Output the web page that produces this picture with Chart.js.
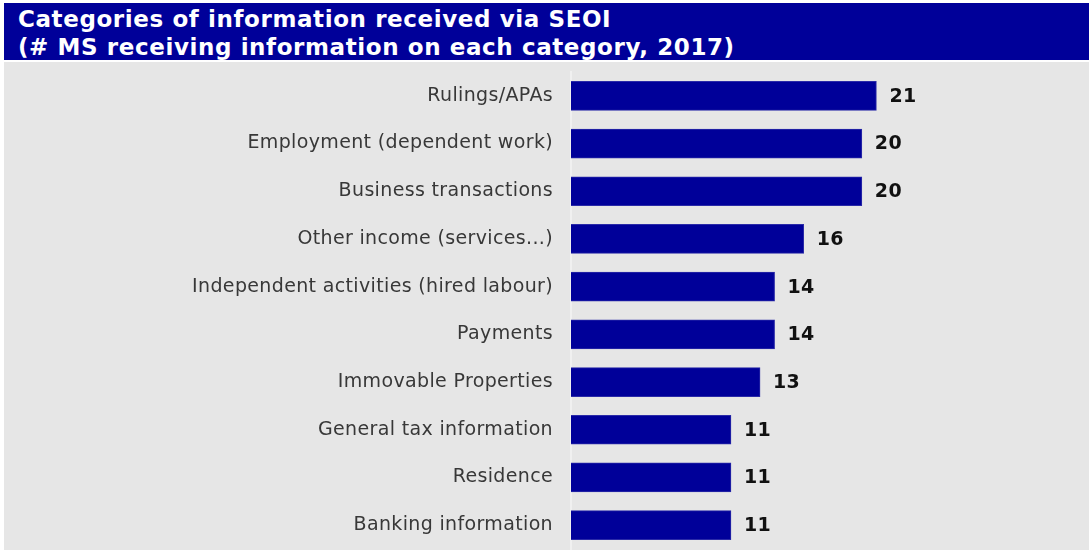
<!DOCTYPE html>
<html>
<head>
<meta charset="utf-8">
<script src="https://cdn.jsdelivr.net/npm/chart.js@4/dist/chart.umd.min.js"></script>
<style>
  html, body { margin: 0; padding: 0; background: #ffffff; }
  body { width: 1089px; height: 550px; position: relative; overflow: hidden; }
  #banner {
    position: absolute; left: 4px; top: 3px; width: 1085px; height: 57px;
    background: #000099; color: #ffffff; overflow: hidden;
    font-family: "DejaVu Sans", Verdana, sans-serif; font-weight: bold;
    font-size: 23px; letter-spacing: 0.6px; line-height: 28px; box-sizing: border-box; padding: 2px 0 0 14px;
  }
  #wrap { position: absolute; left: 4px; top: 62px; width: 1085px; height: 488px; background: #e6e6e6; }
</style>
</head>
<body>
<div id="banner">Categories of information received via SEOI<br>(# MS receiving information on each category, 2017)</div>
<div id="wrap"><canvas id="c" width="1085" height="488"></canvas></div>
<script>
const categories = [
  "Rulings/APAs",
  "Employment (dependent work)",
  "Business transactions",
  "Other income (services...)",
  "Independent activities (hired labour)",
  "Payments",
  "Immovable Properties",
  "General tax information",
  "Residence",
  "Banking information"
];
const values = [21, 20, 20, 16, 14, 14, 13, 11, 11, 11];

const spacing = {
  id: 'spacing',
  beforeDraw(chart) { chart.ctx.letterSpacing = '0.35px'; },
  afterDraw(chart) { chart.ctx.letterSpacing = '0px'; }
};

const valueLabels = {
  id: 'valueLabels',
  afterDatasetsDraw(chart) {
    const ctx = chart.ctx;
    const meta = chart.getDatasetMeta(0);
    ctx.save();
    ctx.letterSpacing = '0.3px';
    ctx.font = 'bold 19px "DejaVu Sans", Verdana, sans-serif';
    ctx.fillStyle = '#111111';
    ctx.textAlign = 'left';
    ctx.textBaseline = 'middle';
    meta.data.forEach((bar, i) => {
      ctx.fillText(String(values[i]), bar.x + 13, bar.y + 1);
    });
    ctx.restore();
  }
};

new Chart(document.getElementById('c'), {
  type: 'bar',
  data: {
    labels: categories,
    datasets: [{
      data: values,
      backgroundColor: '#000099',
      borderColor: '#2a2aa8',
      borderWidth: 1,
      barThickness: 29
    }]
  },
  options: {
    indexAxis: 'y',
    responsive: false,
    animation: false,
    layout: { padding: { top: 10, bottom: 1, left: 0, right: 9 } },
    plugins: { legend: { display: false }, tooltip: { enabled: false } },
    scales: {
      x: {
        display: false,
        min: 0,
        max: 35
      },
      y: {
        grid: { display: false, drawTicks: false },
        border: { display: true, color: '#f0f0f0', width: 2 },
        ticks: {
          color: '#383838',
          padding: 18,
          font: { family: '"DejaVu Sans", Verdana, sans-serif', size: 19 }
        },
        afterFit(scale) { scale.width = 567; scale.paddingTop = 0; scale.paddingBottom = 0; }
      }
    }
  },
  plugins: [spacing, valueLabels]
});
</script>
</body>
</html>
